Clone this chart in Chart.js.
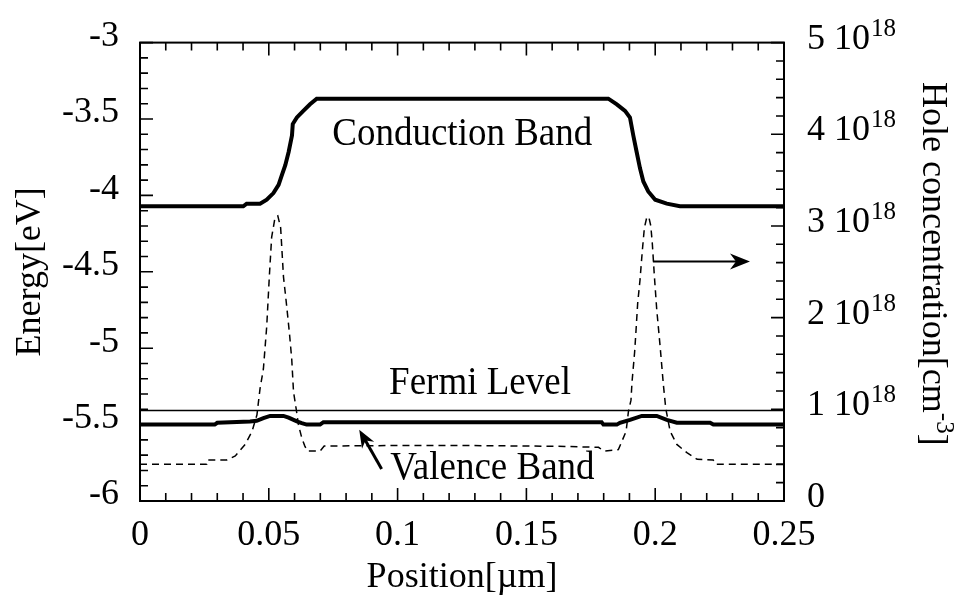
<!DOCTYPE html>
<html>
<head>
<meta charset="utf-8">
<script src="https://cdn.jsdelivr.net/npm/chart.js@4"></script>
<style>
  html, body { margin: 0; padding: 0; background: #fff; }
  #wrap { width: 961px; height: 603px; }
</style>
</head>
<body>
<div id="wrap"><canvas id="chart" width="961" height="603"></canvas></div>
<script>
// --- DATA ---
// positions in µm, energies in eV
const cbPos = [0, 0.0401, 0.0414, 0.0466, 0.0492, 0.0518, 0.0538, 0.0551, 0.0564, 0.0577, 0.0590, 0.0593,
  0.0609, 0.0634, 0.0660, 0.0686, 0.1818, 0.1851, 0.1883, 0.1902, 0.1915, 0.1928, 0.1941, 0.1954,
  0.1973, 0.2000, 0.2045, 0.2096, 0.25];
const cbEnergy = [-4.071, -4.071, -4.054, -4.054, -4.028, -3.985, -3.931, -3.866, -3.802, -3.716, -3.608, -3.533,
  -3.490, -3.447, -3.404, -3.367, -3.367, -3.404, -3.447, -3.490, -3.608, -3.716, -3.823, -3.909,
  -3.974, -4.028, -4.054, -4.071, -4.071];

const vbPos = [0, 0.0290, 0.0300, 0.0427, 0.0453, 0.0479, 0.0505, 0.0557, 0.0577, 0.0609, 0.0628, 0.0647,
  0.0699, 0.0712, 0.1792, 0.1799, 0.1851, 0.1863, 0.1902, 0.1948, 0.2006, 0.2045, 0.2084, 0.2213,
  0.2226, 0.25];
const vbEnergy = [-5.500, -5.500, -5.488, -5.479, -5.475, -5.458, -5.443, -5.443, -5.454, -5.479, -5.490, -5.500,
  -5.500, -5.484, -5.484, -5.500, -5.500, -5.488, -5.469, -5.443, -5.443, -5.469, -5.488, -5.488,
  -5.500, -5.500];

const fermiPos = [0, 0.25];
const fermiEnergy = [-5.408, -5.408];

// hole concentration in units of 1e18 cm^-3
const holePos = [0, 0.0259, 0.0262, 0.0337, 0.0370, 0.0408, 0.0435, 0.0454, 0.0466, 0.0479, 0.0492, 0.0502,
  0.0511, 0.0524, 0.0535, 0.0546, 0.0557, 0.0567, 0.0580, 0.0589, 0.0596, 0.0606, 0.0615, 0.0628,
  0.0640, 0.0650, 0.0699, 0.0715, 0.100, 0.125, 0.150, 0.165, 0.178, 0.1801, 0.1857, 0.1872,
  0.1887, 0.1896, 0.1906, 0.1910, 0.1920, 0.1925, 0.1932, 0.1941, 0.1950, 0.1958, 0.1967, 0.1975,
  0.1983, 0.1989, 0.1997, 0.2006, 0.2019, 0.2032, 0.2041, 0.2058, 0.2084, 0.2123, 0.2163, 0.2225,
  0.2235, 0.25];
const holeConc = [0.400, 0.400, 0.448, 0.448, 0.491, 0.617, 0.760, 0.940, 1.226, 1.440, 1.907, 2.445,
  2.875, 3.090, 3.110, 2.980, 2.445, 2.190, 1.835, 1.548, 1.190, 1.010, 0.832, 0.688,
  0.599, 0.545, 0.545, 0.600, 0.605, 0.605, 0.600, 0.595, 0.585, 0.545, 0.560, 0.660,
  0.760, 0.975, 1.100, 1.297, 1.620, 1.835, 2.158, 2.410, 2.730, 2.980, 3.090, 3.100,
  3.000, 2.800, 2.445, 2.087, 1.690, 1.260, 1.010, 0.760, 0.617, 0.527, 0.455, 0.448,
  0.400, 0.400];

const xTicks = [0, 0.05, 0.1, 0.15, 0.2, 0.25];
const energyTicks = [-6, -5.5, -5, -4.5, -4, -3.5, -3];
const holeTicks = [0, 1, 2, 3, 4, 5];

// --- ANNOTATIONS ---
const notes = [
  { text: 'Conduction Band', x: 0.1251, y: -3.668 },
  { text: 'Fermi Level', x: 0.1320, y: -5.297 },
  { text: 'Valence Band', x: 0.1368, y: -5.855 }
];
const arrows = [
  { axis: 'y2', from: [0.1991, 2.613], to: [0.2368, 2.613], width: 2, len: 20, half: 8 },
  { axis: 'y', from: [0.0938, -5.791], to: [0.0851, -5.533], width: 3, len: 18, half: 7 }
];

const FONT = "'Liberation Serif', 'Times New Roman', serif";
const pts = (xs, ys) => xs.map((x, i) => ({ x, y: ys[i] }));
const fmt = v => String(+v.toFixed(2));

function drawArrow(ctx, x1, y1, x2, y2, lw, len, half) {
  const a = Math.atan2(y2 - y1, x2 - x1);
  const c = Math.cos(a), s = Math.sin(a);
  ctx.lineWidth = lw;
  ctx.beginPath();
  ctx.moveTo(x1, y1);
  ctx.lineTo(x2 - c * len * 0.6, y2 - s * len * 0.6);
  ctx.stroke();
  ctx.beginPath();
  ctx.moveTo(x2, y2);
  ctx.lineTo(x2 - c * len - s * half, y2 - s * len + c * half);
  ctx.lineTo(x2 - c * len * 0.7, y2 - s * len * 0.7);
  ctx.lineTo(x2 - c * len + s * half, y2 - s * len - c * half);
  ctx.closePath();
  ctx.fill();
}

// frame, inward ticks, right-hand labels, notes and arrows
const decor = {
  id: 'decor',
  afterDraw(chart) {
    const { ctx, chartArea: a, scales } = chart;
    const { x, y, y2 } = scales;
    ctx.save();
    ctx.strokeStyle = '#000';
    ctx.fillStyle = '#000';

    // ticks
    ctx.lineWidth = 1.6;
    ctx.beginPath();
    for (let i = 0; i <= 25; i++) {
      const px = x.getPixelForValue(i * 0.01);
      const l = i % 5 === 0 ? 13 : 8;
      ctx.moveTo(px, a.bottom); ctx.lineTo(px, a.bottom - l);
      ctx.moveTo(px, a.top); ctx.lineTo(px, a.top + l);
    }
    for (let i = 0; i <= 30; i++) {
      const py = y.getPixelForValue(-6 + i * 0.1);
      const l = i % 5 === 0 ? 13 : 8;
      ctx.moveTo(a.left, py); ctx.lineTo(a.left + l, py);
    }
    for (let i = 0; i <= 25; i++) {
      const py = y2.getPixelForValue(i * 0.2);
      const l = i % 5 === 0 ? 13 : 8;
      ctx.moveTo(a.right, py); ctx.lineTo(a.right - l, py);
    }
    ctx.stroke();

    // frame
    ctx.lineWidth = 2;
    ctx.strokeRect(a.left, a.top, a.right - a.left, a.bottom - a.top);

    // right axis labels: "n 10^18"
    ctx.textBaseline = 'alphabetic';
    ctx.textAlign = 'left';
    holeTicks.forEach(v => {
      const py = y2.getPixelForValue(v) + 6;
      const px = a.right + 23;
      ctx.font = '36px ' + FONT;
      if (v === 0) { ctx.fillText('0', px, py); return; }
      const main = v + ' 10';
      ctx.fillText(main, px, py);
      const w = ctx.measureText(main).width;
      ctx.font = '25px ' + FONT;
      ctx.fillText('18', px + w + 1, py - 13);
    });

    // right axis title, read top to bottom
    ctx.save();
    ctx.translate(923, (a.top + a.bottom) / 2 - 8);
    ctx.rotate(Math.PI / 2);
    ctx.font = '36px ' + FONT;
    const t1 = 'Hole concentration[cm', t2 = '-3', t3 = ']';
    const w1 = ctx.measureText(t1).width, w3 = ctx.measureText(t3).width;
    ctx.font = '25px ' + FONT;
    const w2 = ctx.measureText(t2).width;
    let sx = -(w1 + w2 + w3) / 2;
    ctx.font = '36px ' + FONT;
    ctx.fillText(t1, sx, 0);
    ctx.font = '25px ' + FONT;
    ctx.fillText(t2, sx + w1, -14);
    ctx.font = '36px ' + FONT;
    ctx.fillText(t3, sx + w1 + w2, 0);
    ctx.restore();

    // notes, set a little taller than the stock face
    ctx.font = '37px ' + FONT;
    ctx.textAlign = 'center';
    notes.forEach(n => {
      ctx.save();
      ctx.translate(x.getPixelForValue(n.x), y.getPixelForValue(n.y));
      ctx.scale(1, 1.1);
      ctx.fillText(n.text, 0, 0);
      ctx.restore();
    });

    // arrows
    arrows.forEach(ar => {
      const s = scales[ar.axis];
      drawArrow(ctx,
        x.getPixelForValue(ar.from[0]), s.getPixelForValue(ar.from[1]),
        x.getPixelForValue(ar.to[0]), s.getPixelForValue(ar.to[1]),
        ar.width, ar.len, ar.half);
    });
    ctx.restore();
  }
};

const line = (data, extra) => Object.assign({
  data, borderColor: '#000', backgroundColor: '#000', pointRadius: 0,
  tension: 0, fill: false, yAxisID: 'y'
}, extra);

const ctx = document.getElementById('chart').getContext('2d');
new Chart(ctx, {
  type: 'line',
  data: {
    datasets: [
      line(pts(holePos, holeConc), { label: 'Hole concentration', yAxisID: 'y2', borderWidth: 1.5, borderDash: [7, 5] }),
      line(pts(fermiPos, fermiEnergy), { label: 'Fermi Level', borderWidth: 1.6 }),
      line(pts(cbPos, cbEnergy), { label: 'Conduction Band', borderWidth: 4 }),
      line(pts(vbPos, vbEnergy), { label: 'Valence Band', borderWidth: 4 })
    ]
  },
  options: {
    responsive: false,
    animation: false,
    devicePixelRatio: 1,
    layout: { padding: { top: 36, left: 0, right: 0, bottom: 0 } },
    plugins: { legend: { display: false }, tooltip: { enabled: false } },
    scales: {
      x: {
        type: 'linear', min: 0, max: 0.25,
        afterBuildTicks: s => { s.ticks = xTicks.map(v => ({ value: v })); },
        ticks: { color: '#000', font: { family: FONT, size: 36 }, padding: 13, maxRotation: 0, autoSkip: false, callback: v => fmt(v) },
        grid: { display: false, drawTicks: false },
        border: { display: false },
        title: { display: true, text: 'Position[µm]', color: '#000', font: { family: FONT, size: 36 }, padding: { top: 0, bottom: 4 } },
        afterFit: s => { s.height = 102; }
      },
      y: {
        type: 'linear', position: 'left', min: -6, max: -3,
        afterBuildTicks: s => { s.ticks = energyTicks.map(v => ({ value: v })); },
        ticks: { color: '#000', font: { family: FONT, size: 36 }, padding: 21, labelOffset: -6, autoSkip: false, callback: v => fmt(v) },
        grid: { display: false, drawTicks: false },
        border: { display: false },
        title: { display: true, text: 'Energy[eV]', color: '#000', font: { family: FONT, size: 36 }, padding: { top: 9, bottom: 0 } },
        afterFit: s => { s.width = 140; }
      },
      y2: {
        type: 'linear', position: 'right', min: 0, max: 5,
        ticks: { display: false },
        grid: { display: false, drawTicks: false },
        border: { display: false },
        afterFit: s => { s.width = 177; }
      }
    }
  },
  plugins: [decor]
});
</script>
</body>
</html>
